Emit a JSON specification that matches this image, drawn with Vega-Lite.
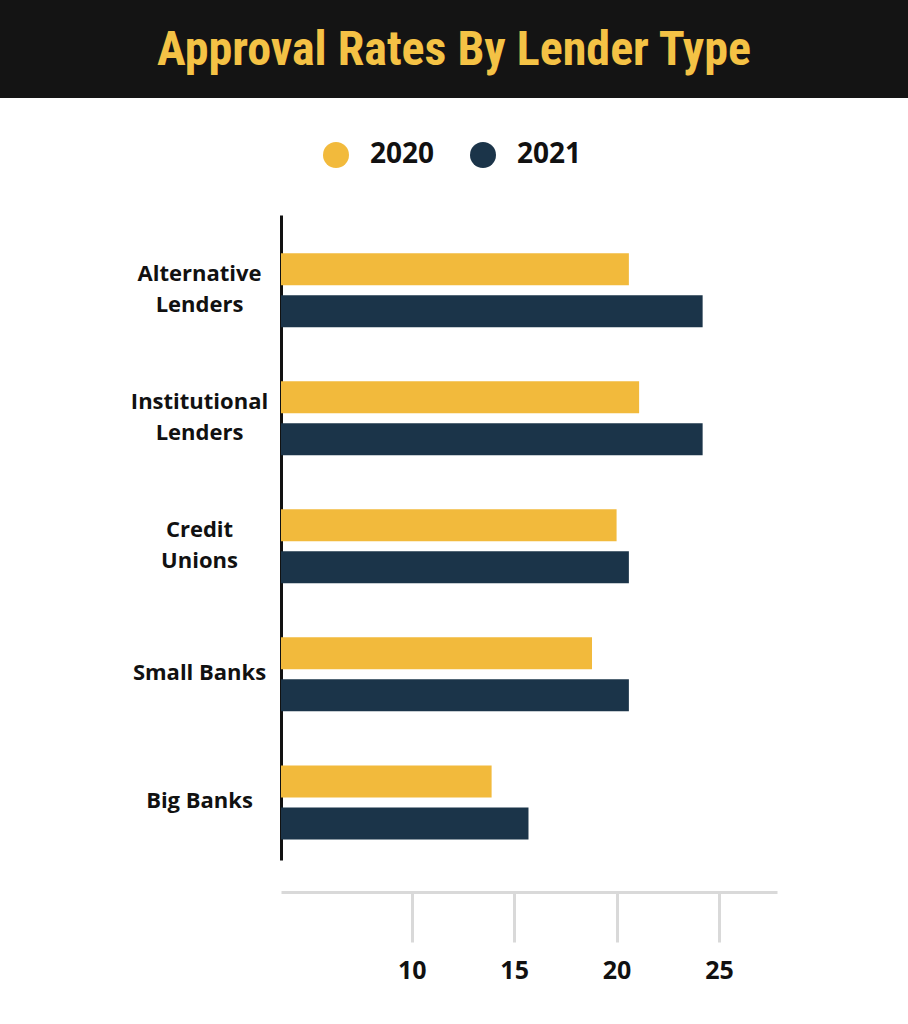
{
  "$schema": "https://vega.github.io/schema/vega-lite/v6.json",
  "padding": {"left": 0, "top": 0, "right": 0, "bottom": 20},
  "background": "white",
  "spacing": 43,
  "center": true,
  "config": {"view": {"stroke": null}},
  "resolve": {"legend": {"color": "independent"}},
  "vconcat": [
    {
      "width": 1058,
      "height": 98,
      "view": {"fill": "#141414", "stroke": null},
      "data": {"values": [{"title": "Approval Rates By Lender Type"}]},
      "mark": {"type": "text", "font": "Roboto Condensed, Liberation Sans Narrow, DejaVu Sans Condensed, sans-serif", "fontWeight": "bold", "fontSize": 48, "color": "#F4C245", "baseline": "alphabetic", "dy": 16, "dx": -75},
      "encoding": {"text": {"field": "title", "type": "nominal"}}
    },
    {
      "width": 496,
      "height": 645,
      "data": {"values": [
        {"lender": "Alternative Lenders", "year": "2020", "rate": 20.6},
        {"lender": "Alternative Lenders", "year": "2021", "rate": 24.2},
        {"lender": "Institutional Lenders", "year": "2020", "rate": 21.1},
        {"lender": "Institutional Lenders", "year": "2021", "rate": 24.2},
        {"lender": "Credit Unions", "year": "2020", "rate": 20.0},
        {"lender": "Credit Unions", "year": "2021", "rate": 20.6},
        {"lender": "Small Banks", "year": "2020", "rate": 18.8},
        {"lender": "Small Banks", "year": "2021", "rate": 20.6},
        {"lender": "Big Banks", "year": "2020", "rate": 13.9},
        {"lender": "Big Banks", "year": "2021", "rate": 15.7}
      ]},
      "mark": {"type": "bar", "clip": true},
      "encoding": {
        "y": {
          "field": "lender", "type": "nominal",
          "sort": ["Alternative Lenders", "Institutional Lenders", "Credit Unions", "Small Banks", "Big Banks"],
          "scale": {"paddingInner": 0.422, "paddingOuter": 0.23, "align": 0.65},
          "axis": {
            "title": null,
            "domainColor": "#111111", "domainWidth": 3, "ticks": false, "tickSize": 0,
            "labelAlign": "center", "labelPadding": 82, "labelFont": "Open Sans", "labelFontWeight": "bold",
            "labelFontSize": 22, "labelColor": "#111111", "labelLineHeight": 31, "labelLimit": 300,
            "labelOffset": {"condition": {"test": "indexof(datum.value, 'Banks') < 0", "value": -16}, "value": -1},
            "labelExpr": "indexof(datum.value, 'Banks') >= 0 ? datum.value : split(datum.value, ' ')"
          }
        },
        "yOffset": {"field": "year", "type": "nominal", "scale": {"paddingInner": 0.238}},
        "x": {
          "field": "rate", "type": "quantitative",
          "scale": {"domain": [3.62, 27.83], "zero": false, "nice": false},
          "axis": {
            "title": null, "values": [10, 15, 20, 25], "offset": 32, "grid": false,
            "domainColor": "#d9d9d9", "domainWidth": 3, "tickColor": "#d9d9d9", "tickWidth": 3, "tickSize": 50,
            "labelFont": "Open Sans", "labelFontWeight": "bold", "labelFontSize": 25, "labelColor": "#111111",
            "labelPadding": 16, "labelFlush": false
          }
        },
        "color": {
          "field": "year", "type": "nominal",
          "scale": {"domain": ["2020", "2021"], "range": ["#F2BA3C", "#1B3449"]},
          "legend": {
            "title": null, "orient": "none", "legendX": 41, "legendY": -74, "direction": "horizontal",
            "symbolType": "circle", "symbolSize": 676, "symbolStrokeWidth": 0, "symbolOpacity": 1,
            "labelFont": "Open Sans", "labelFontWeight": "bold", "labelFontSize": 28, "labelColor": "#111111",
            "labelOffset": 20, "columnPadding": 34, "padding": 0
          }
        }
      }
    }
  ]
}
